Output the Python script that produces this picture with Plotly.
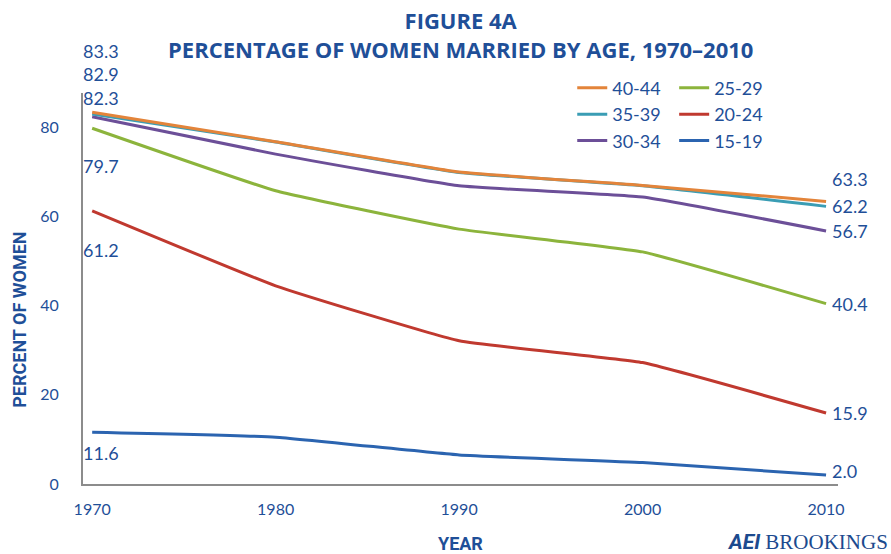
import plotly.graph_objects as go

# ---- data ----
years = [1970, 1980, 1990, 2000, 2010]
age_40_44 = [83.3, 76.7, 69.9, 66.9, 63.3]
age_35_39 = [82.9, 76.6, 69.8, 66.8, 62.2]
age_30_34 = [82.3, 73.9, 66.8, 64.3, 56.7]
age_25_29 = [79.7, 65.7, 57.1, 52.0, 40.4]
age_20_24 = [61.2, 44.4, 32.1, 27.2, 15.9]
age_15_19 = [11.6, 10.5, 6.5, 4.8, 2.0]

series_names = ["40-44", "35-39", "30-34", "25-29", "20-24", "15-19"]
series_vals = [age_40_44, age_35_39, age_30_34, age_25_29, age_20_24, age_15_19]
colors = ["#E3843A", "#3A9DB4", "#6C4F98", "#8CB43C", "#C0392F", "#2B64B0"]
legend_ids = ["legend", "legend", "legend", "legend2", "legend2", "legend2"]

# vertical nudges (px) for the end labels so they don't collide
start_shift = [61, 40, 19, -38, -39, -21]
end_shift = [22, 0, 0, 0, 0, 4]

text_blue = "#1F4F98"
font_main = "Lato"

fig = go.Figure()

# draw bottom-most first so orange ends up on top
for name, vals, col, lg in reversed(list(zip(series_names, series_vals, colors, legend_ids))):
    fig.add_trace(go.Scatter(
        x=years, y=vals, mode="lines", name=name,
        line=dict(color=col, width=3, shape="spline", smoothing=0.35),
        legend=lg,
    ))

for vals, s0, s1 in zip(series_vals, start_shift, end_shift):
    fig.add_annotation(x=years[0], y=vals[0], text=f"{vals[0]:.1f}", showarrow=False,
                       xanchor="left", yanchor="middle", xshift=-11, yshift=s0,
                       font=dict(size=18, color=text_blue, family=font_main))
    fig.add_annotation(x=years[-1], y=vals[-1], text=f"{vals[-1]:.1f}", showarrow=False,
                       xanchor="left", yanchor="middle", xshift=4, yshift=s1,
                       font=dict(size=18, color=text_blue, family=font_main))

# title
fig.add_annotation(xref="paper", yref="paper", x=0.5, y=1.0, yshift=90,
                   text="<b>FIGURE 4A</b><br><b>PERCENTAGE OF WOMEN MARRIED BY AGE, 1970\u20132010</b>",
                   showarrow=False, xanchor="center", yanchor="top",
                   font=dict(size=22, color=text_blue, family="Open Sans"))

# axis titles
fig.add_annotation(xref="paper", yref="paper", x=0, y=0.42, xshift=-63,
                   text="<b>PERCENT OF WOMEN</b>", textangle=-90, showarrow=False,
                   xanchor="center", yanchor="middle",
                   font=dict(size=18, color=text_blue, family="Roboto"))
fig.add_annotation(xref="paper", yref="paper", x=0.5, y=0, yshift=-59,
                   text="<b>YEAR</b>", showarrow=False, xanchor="center", yanchor="middle",
                   font=dict(size=18, color=text_blue, family="Roboto"))

# logo
fig.add_annotation(xref="paper", yref="paper", x=1.0, y=0, xshift=52, yshift=-58,
                   text="<b><i>AEI</i></b> <span style='font-family:Liberation Serif'>BROOKINGS</span>",
                   showarrow=False, xanchor="right", yanchor="middle",
                   font=dict(size=21, color="#1C4A8E", family="Roboto"))

legend_common = dict(
    font=dict(size=18, color=text_blue, family=font_main),
    bgcolor="rgba(0,0,0,0)", xanchor="left", yanchor="top",
    orientation="v", traceorder="reversed", itemwidth=30,
)

fig.update_layout(
    width=891, height=554,
    margin=dict(l=83, r=53, t=93, b=70, autoexpand=False),
    plot_bgcolor="white", paper_bgcolor="white",
    showlegend=True,
    legend=dict(x=0.648, y=1.06, **legend_common),
    legend2=dict(x=0.783, y=1.06, **legend_common),
    xaxis=dict(range=[1969.5, 2010.65], tickvals=years, ticks="",
               showline=True, linecolor="#8C8C8C", linewidth=2, showgrid=False,
               zeroline=False, ticklabelstandoff=10,
               tickfont=dict(size=16, color=text_blue, family=font_main)),
    yaxis=dict(range=[0, 87.6], tickvals=[0, 20, 40, 60, 80], ticks="",
               showline=True, linecolor="#8C8C8C", linewidth=2, showgrid=False,
               zeroline=False, ticklabelstandoff=19,
               tickfont=dict(size=16, color=text_blue, family=font_main)),
)

# the page's default body margin would push the figure 8px off the window
fig.write_html("out.html", config={"displayModeBar": False},
               post_script="document.body.style.margin='0';")
